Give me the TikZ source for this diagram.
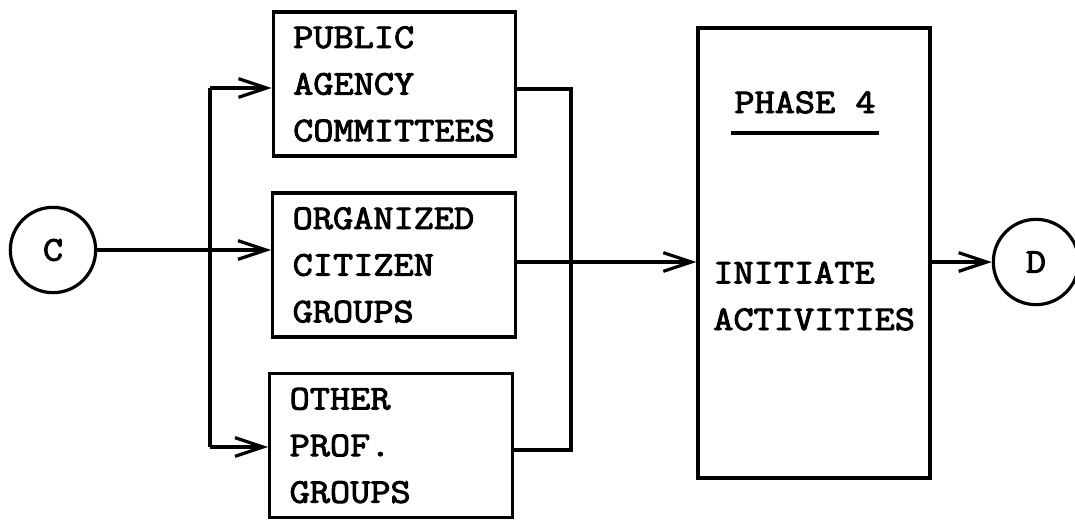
\documentclass[tikz,border=0pt]{standalone}
\usepackage{fontspec}
\newfontfamily\typewriter[FakeBold=2.8,FakeStretch=1.13]{Latin Modern Mono}
\usetikzlibrary{arrows.meta}
\begin{document}
\begin{tikzpicture}[x=0.75pt,y=-0.75pt,
  every node/.style={font=\typewriter\fontsize{26}{35}\selectfont},
  wire/.style={line width=2.4pt, line join=miter},
  arr/.style={wire, -{Straight Barb[length=21pt,width=14pt]}},
  box/.style={draw, wire, rectangle, minimum width=182pt, minimum height=108pt,
    inner xsep=15pt, inner ysep=0pt, text width=152pt, align=left},
  phasebox/.style={draw, wire, rectangle, minimum width=174pt, minimum height=337.5pt},
  circ/.style={draw, wire, circle, minimum size=64pt, inner sep=0pt}]
\useasboundingbox (0,0) rectangle (1075,521);

% group boxes
\node[box] (pub) at (394.5,84)  {PUBLIC\\AGENCY\\COMMITTEES};
\node[box] (org) at (394,265)   {ORGANIZED\\CITIZEN\\GROUPS};
\node[box] (oth) at (391,445.5) {OTHER\\PROF.\\GROUPS};

% phase box with its title and task
\node[phasebox] (ph) at (814,253) {};
\node[anchor=base, inner xsep=2pt, inner ysep=0pt] (title) at (805,113) {PHASE 4};
\draw[wire] ([yshift=-15pt]title.base west) -- ([yshift=-15pt]title.base east);
\node[anchor=base west, align=left, inner sep=0pt] (act) at (713,330) {INITIATE\\ACTIVITIES};

% connectors
\node[circ] (C) at (53,250) {C};
\node[circ] (D) at (1036,262) {D};

% distribution bus on the left
\coordinate (lt) at (210,88);
\coordinate (lb) at (210,447);
\draw[wire] (lt) -- (lb);
\draw[arr] (lt) -- (lt -| pub.west);
\draw[arr] (lb) -- (lb -| oth.west);
\draw[arr] (C) -- (C -| org.west);

% collecting bus on the right
\coordinate (rt) at (571,89);
\coordinate (rb) at (571,450);
\draw[wire] (pub.east |- rt) -- (rt) -- (rb) -- (oth.east |- rb);
\draw[arr] ([yshift=2.25pt]org.east) coordinate (m) -- (m -| ph.west);

% output
\draw[arr] (ph.east |- D) -- (D);
\end{tikzpicture}
\end{document}
